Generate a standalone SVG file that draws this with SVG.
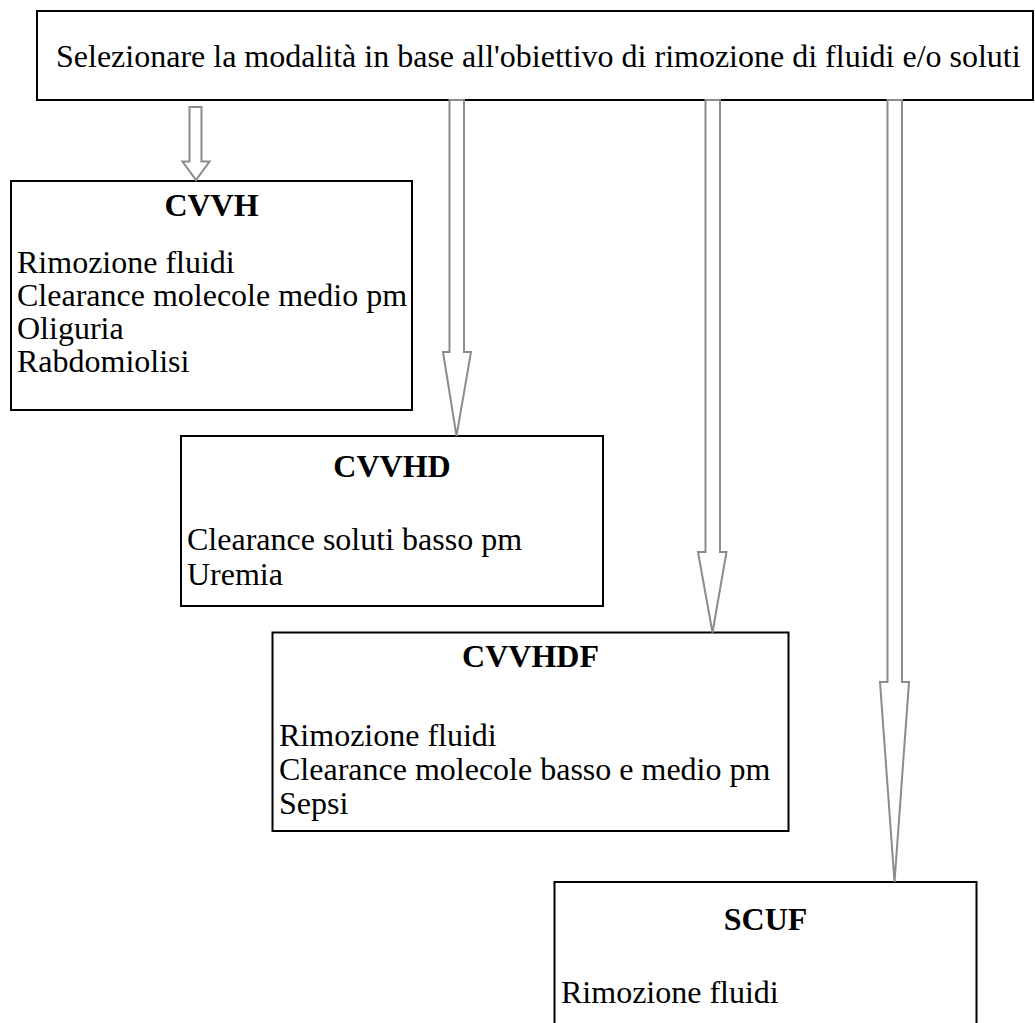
<svg xmlns="http://www.w3.org/2000/svg" width="1035" height="1023" viewBox="0 0 1035 1023">
<style>
.box{fill:#ffffff;stroke:#000000;stroke-width:2}
.t{font-family:"Liberation Serif","Times New Roman",serif;font-size:32px;fill:#000000}
.h{font-family:"Liberation Serif","Times New Roman",serif;font-size:32px;font-weight:bold;fill:#000000;text-anchor:middle}
.arr{fill:#ffffff;stroke:#8c8c8c;stroke-width:2;stroke-linejoin:miter}
</style>
<rect x="0" y="0" width="1035" height="1023" fill="#ffffff"/>
<g id="nodes">
<g id="top">
<rect class="box" x="37" y="11" width="996" height="89"/>
<text class="t" x="56" y="67">Selezionare la modalità in base all'obiettivo di rimozione di fluidi e/o soluti</text>
</g>
<g id="cvvh">
<rect class="box" x="11" y="181" width="401" height="229"/>
<text class="h" x="211.5" y="216">CVVH</text>
<text class="t" x="17" y="273">Rimozione fluidi</text>
<text class="t" x="17" y="306">Clearance molecole medio pm</text>
<text class="t" x="17" y="339">Oliguria</text>
<text class="t" x="17" y="372">Rabdomiolisi</text>
</g>
<g id="cvvhd">
<rect class="box" x="181" y="436" width="422" height="170"/>
<text class="h" x="392" y="477">CVVHD</text>
<text class="t" x="187" y="550">Clearance soluti basso pm</text>
<text class="t" x="187" y="584.5">Uremia</text>
</g>
<g id="cvvhdf">
<rect class="box" x="272.5" y="632.5" width="516" height="198.5"/>
<text class="h" x="530.5" y="667">CVVHDF</text>
<text class="t" x="279" y="746">Rimozione fluidi</text>
<text class="t" x="279" y="780">Clearance molecole basso e medio pm</text>
<text class="t" x="279" y="814">Sepsi</text>
</g>
<g id="scuf">
<rect class="box" x="554.5" y="882" width="422" height="160"/>
<text class="h" x="765.5" y="930">SCUF</text>
<text class="t" x="561" y="1003">Rimozione fluidi</text>
</g>
</g>
<g id="connectors">
<polygon class="arr" points="189.5,107 201.5,107 201.5,161.5 209.5,161.5 196,180 182.5,161.5 189.5,161.5"/>
<polygon class="arr" points="449.5,100 464,100 464,352 471,352 456.5,436 443,352 449.5,352"/>
<polygon class="arr" points="705.5,100 720,100 720,552 726.5,552 712.5,632.5 698,552 705.5,552"/>
<polygon class="arr" points="887.5,100 902,100 902,682 909,682 894.5,882 880,682 887.5,682"/>
</g>
</svg>
